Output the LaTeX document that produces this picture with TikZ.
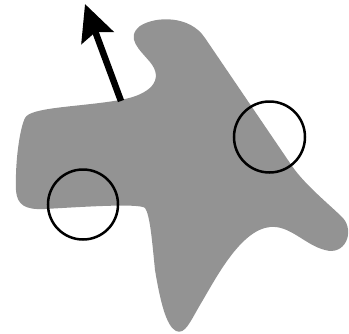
\documentclass[tikz,border=0pt]{standalone}
\usepackage{tikz}
\usetikzlibrary{arrows.meta}
\definecolor{blobgray}{RGB}{147,147,147}

\begin{document}
\begin{tikzpicture}[x=1pt,y=-1pt]
\useasboundingbox (0,0) rectangle (349,333);

% Shape
\fill[blobgray] (25,118)
  .. controls (30,107) and (80,107) .. (120,100)
  .. controls (150,95) and (165,80) .. (150,62)
  .. controls (140,50) and (125,38) .. (140,26)
  .. controls (155,16) and (190,15) .. (205,38)
  -- (292,166)
  .. controls (305,185) and (330,205) .. (343,218)
  .. controls (355,232) and (345,256) .. (325,250)
  .. controls (305,245) and (290,225) .. (270,227)
  .. controls (240,230) and (215,280) .. (200,305)
  .. controls (190,322) and (185,335) .. (176,331)
  .. controls (166,326) and (160,300) .. (155,270)
  .. controls (152,240) and (150,215) .. (145,208)
  .. controls (140,203) and (80,207) .. (45,209)
  .. controls (25,210) and (17,205) .. (16,190)
  .. controls (15,160) and (20,128) .. (25,118) -- cycle;

% Normal
\coordinate (base) at (121,101);
\coordinate (tip) at (85,4);
\draw[line width=6.5pt, -{Stealth[length=36pt,width=34pt,inset=6pt]}] (base) -- (tip);

% Circles
\draw[line width=2.5pt] (269.5,137) circle (35.5);
\draw[line width=2.5pt] (83,204.5) circle (35);
\end{tikzpicture}
\end{document}
